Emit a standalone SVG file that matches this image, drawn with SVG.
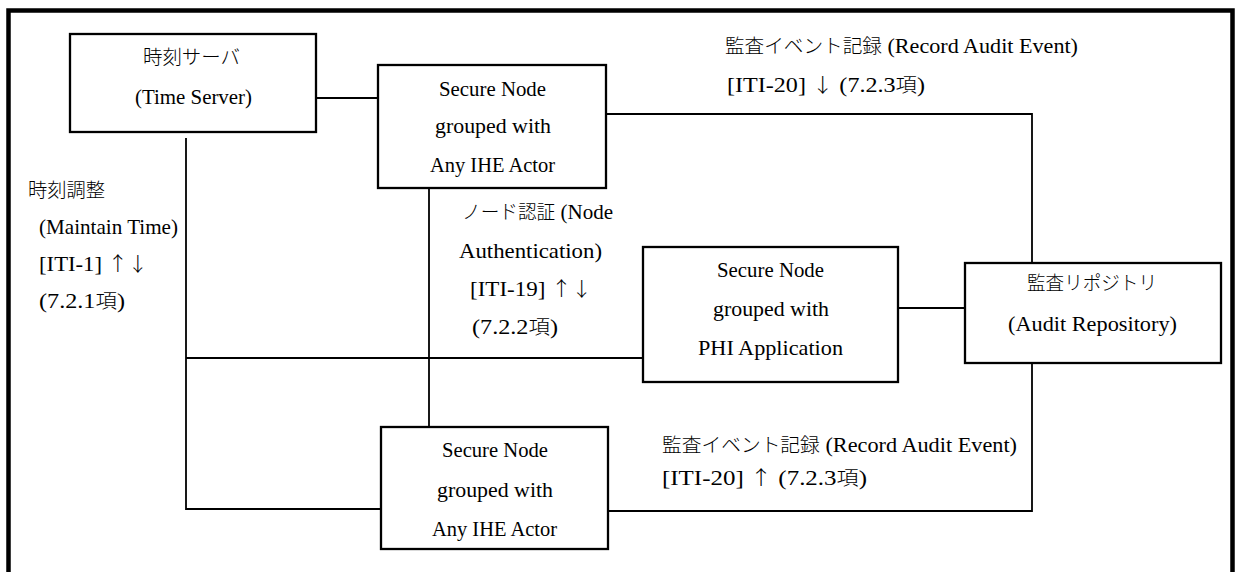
<svg xmlns="http://www.w3.org/2000/svg" width="1237" height="572" viewBox="0 0 1237 572">
<style>
.frame{fill:none;stroke:#000;stroke-width:4.5}
.box{fill:#fff;stroke:#000;stroke-width:2.3}
.ln{fill:none;stroke:#000;stroke-width:1.8}
.t{font-family:"Liberation Serif","Noto Sans CJK JP",serif;font-size:22px;fill:#000}
.c{text-anchor:middle}
.j{font-family:"Noto Sans CJK JP",sans-serif;font-size:19.5px;font-weight:300}
</style>
<rect x="0" y="0" width="1237" height="572" fill="#fff"/>
<path class="frame" d="M8.5 572 V10.5 H1232.5 V572"/>

<g id="connectors">
  <path class="ln" d="M316 98 H378"/>
  <path class="ln" d="M186 138 V509 H381"/>
  <path class="ln" d="M186 358 H643"/>
  <path class="ln" d="M429 188 V427"/>
  <path class="ln" d="M606 114 H1032 V263"/>
  <path class="ln" d="M898 308 H965"/>
  <path class="ln" d="M1032 363 V511 H607"/>
</g>

<g id="time-server">
  <rect class="box" x="70" y="34" width="246" height="98"/>
  <text class="t c" x="191.5" y="64" textLength="97" lengthAdjust="spacingAndGlyphs"><tspan class="j">時刻サーバ</tspan></text>
  <text class="t c" x="193.5" y="104" textLength="117" lengthAdjust="spacingAndGlyphs">(Time Server)</text>
</g>

<g id="secure-node-top">
  <rect class="box" x="378" y="65" width="228" height="123"/>
  <text class="t c" x="492.5" y="96" textLength="107" lengthAdjust="spacingAndGlyphs">Secure Node</text>
  <text class="t c" x="493" y="133" textLength="116" lengthAdjust="spacingAndGlyphs">grouped with</text>
  <text class="t c" x="492.5" y="172" textLength="125" lengthAdjust="spacingAndGlyphs">Any IHE Actor</text>
</g>

<g id="secure-node-phi">
  <rect class="box" x="643" y="247" width="255" height="135"/>
  <text class="t c" x="770.5" y="277" textLength="107" lengthAdjust="spacingAndGlyphs">Secure Node</text>
  <text class="t c" x="771" y="316" textLength="116" lengthAdjust="spacingAndGlyphs">grouped with</text>
  <text class="t c" x="770.5" y="355" textLength="145" lengthAdjust="spacingAndGlyphs">PHI Application</text>
</g>

<g id="audit-repository">
  <rect class="box" x="965" y="263" width="256" height="100"/>
  <text class="t c" x="1092" y="290" textLength="130" lengthAdjust="spacingAndGlyphs"><tspan class="j">監査リポジトリ</tspan></text>
  <text class="t c" x="1092.5" y="331" textLength="169" lengthAdjust="spacingAndGlyphs">(Audit Repository)</text>
</g>

<g id="secure-node-bottom">
  <rect class="box" x="381" y="427" width="227" height="122"/>
  <text class="t c" x="495" y="457" textLength="106" lengthAdjust="spacingAndGlyphs">Secure Node</text>
  <text class="t c" x="495" y="497" textLength="116" lengthAdjust="spacingAndGlyphs">grouped with</text>
  <text class="t c" x="494.5" y="536" textLength="125" lengthAdjust="spacingAndGlyphs">Any IHE Actor</text>
</g>

<g id="label-maintain-time">
  <text class="t" x="28" y="197" textLength="77" lengthAdjust="spacingAndGlyphs"><tspan class="j">時刻調整</tspan></text>
  <text class="t" x="39" y="234" textLength="139" lengthAdjust="spacingAndGlyphs">(Maintain Time)</text>
  <text class="t" x="39" y="271" textLength="109" lengthAdjust="spacingAndGlyphs">[ITI-1] <tspan class="j">↑↓</tspan></text>
  <text class="t" x="39" y="308" textLength="86" lengthAdjust="spacingAndGlyphs">(7.2.1<tspan class="j">項</tspan>)</text>
</g>

<g id="label-node-auth">
  <text class="t" x="462" y="219" textLength="151" lengthAdjust="spacingAndGlyphs"><tspan class="j">ノード認証</tspan> (Node</text>
  <text class="t" x="459" y="258" textLength="143" lengthAdjust="spacingAndGlyphs">Authentication)</text>
  <text class="t" x="470" y="296" textLength="122" lengthAdjust="spacingAndGlyphs">[ITI-19] <tspan class="j">↑↓</tspan></text>
  <text class="t" x="472" y="334" textLength="86" lengthAdjust="spacingAndGlyphs">(7.2.2<tspan class="j">項</tspan>)</text>
</g>

<g id="label-audit-top">
  <text class="t" x="725" y="53" textLength="353" lengthAdjust="spacingAndGlyphs"><tspan class="j">監査イベント記録</tspan> (Record Audit Event)</text>
  <text class="t" x="727" y="92" textLength="198" lengthAdjust="spacingAndGlyphs">[ITI-20] <tspan class="j">↓</tspan> (7.2.3<tspan class="j">項</tspan>)</text>
</g>

<g id="label-audit-bottom">
  <text class="t" x="662" y="452" textLength="355" lengthAdjust="spacingAndGlyphs"><tspan class="j">監査イベント記録</tspan> (Record Audit Event)</text>
  <text class="t" x="662" y="485" textLength="205" lengthAdjust="spacingAndGlyphs">[ITI-20] <tspan class="j">↑</tspan> (7.2.3<tspan class="j">項</tspan>)</text>
</g>
</svg>
